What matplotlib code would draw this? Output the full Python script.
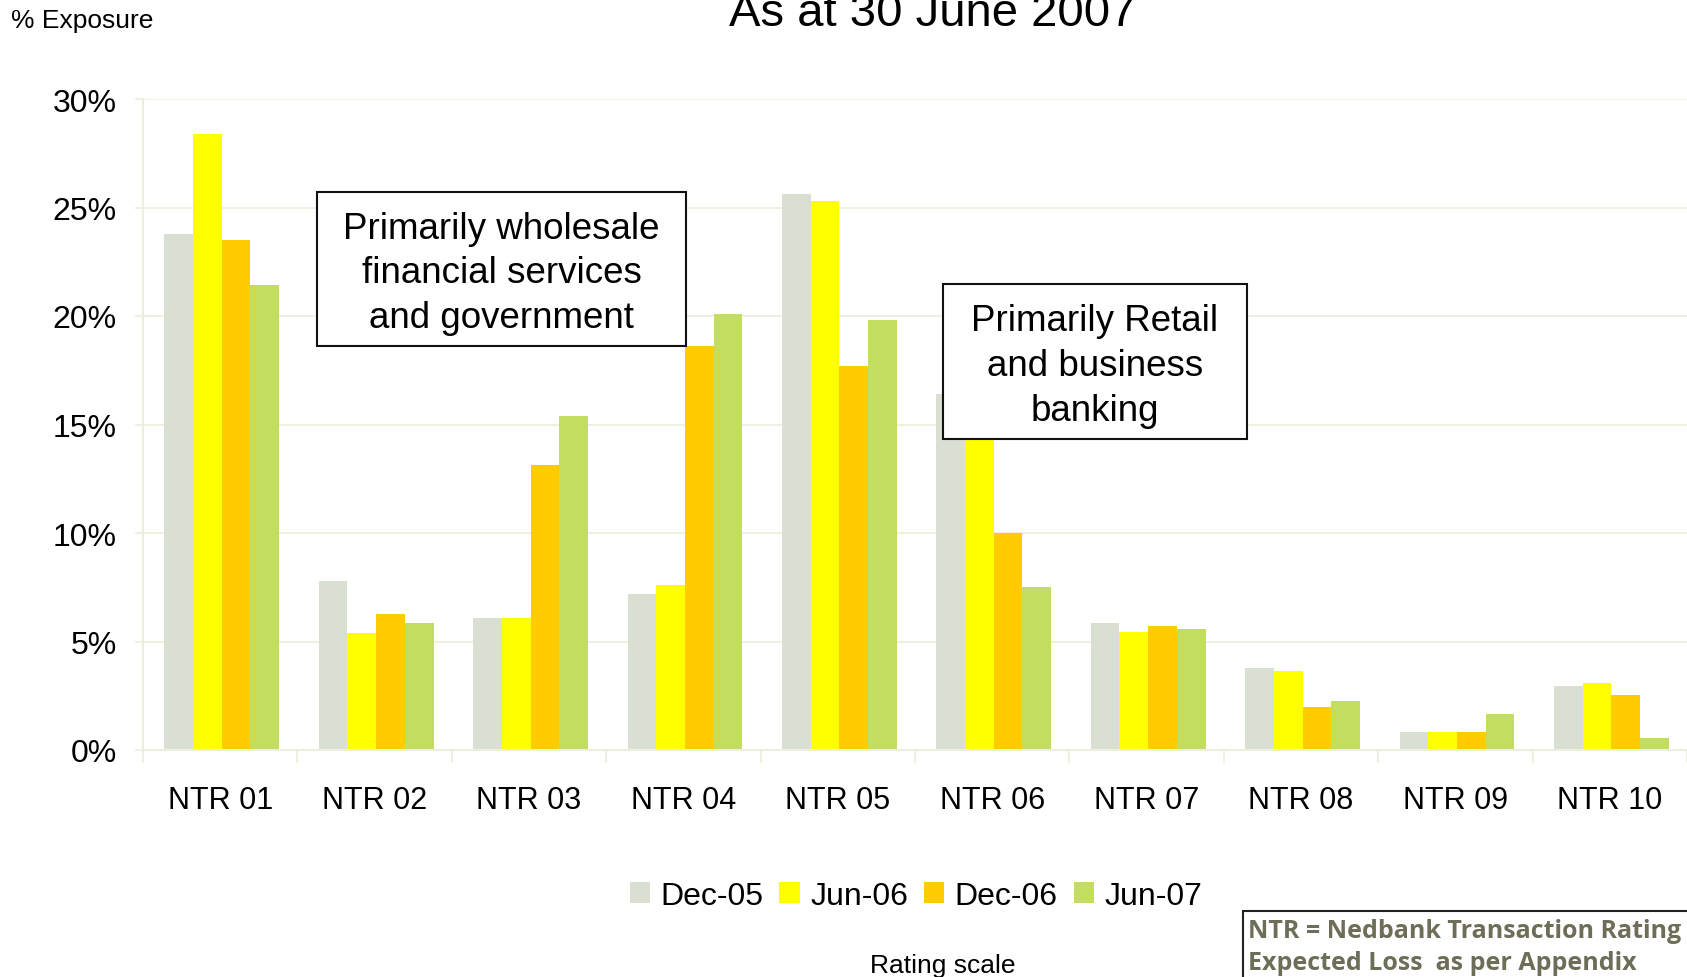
import matplotlib
matplotlib.use("Agg")
import matplotlib.pyplot as plt
from matplotlib.patches import Rectangle
from matplotlib.ticker import FixedLocator, PercentFormatter
import numpy as np

plt.rcParams['font.family'] = ['Liberation Sans', 'DejaVu Sans']

# data (% exposure by rating)
categories = ["NTR 01", "NTR 02", "NTR 03", "NTR 04", "NTR 05",
              "NTR 06", "NTR 07", "NTR 08", "NTR 09", "NTR 10"]
periods = ["Dec-05", "Jun-06", "Dec-06", "Jun-07"]
dec05 = [23.8, 7.8, 6.1, 7.2, 25.6, 16.4, 5.85, 3.77, 0.85, 2.93]
jun06 = [28.4, 5.4, 6.1, 7.6, 25.3, 14.4, 5.43, 3.63, 0.85, 3.07]
dec06 = [23.5, 6.25, 13.15, 18.6, 17.7, 10.0, 5.71, 1.96, 0.85, 2.52]
jun07 = [21.45, 5.83, 15.37, 20.07, 19.8, 7.49, 5.57, 2.24, 1.68, 0.57]
series = [dec05, jun06, dec06, jun07]
colors = ["#D9E0D2", "#FFFF00", "#FFCC00", "#C3DD61"]

grid_col = "#EEEEDC"
W, H = 1687, 978

fig = plt.figure(figsize=(W / 100, H / 100), dpi=100)
ax = fig.add_axes([143 / W, 227 / H, 1 - 143 / W, (751 - 100) / H])

x = np.arange(len(categories))
w = 0.186
for i, (vals, col) in enumerate(zip(series, colors)):
    ax.bar(x + (i - 1.5) * w + 0.01, vals, width=w, color=col,
           label=periods[i], zorder=2, linewidth=0)

ax.set_xlim(-0.5, 9.5)
ax.set_ylim(0, 30)
ax.yaxis.set_major_locator(FixedLocator(np.arange(0, 31, 5)))
ax.yaxis.set_major_formatter(PercentFormatter(decimals=0))
ax.grid(axis='y', color=grid_col, linewidth=1.2, zorder=0)
ax.set_axisbelow(True)

# category separators as major ticks, labels on minor ticks
ax.xaxis.set_major_locator(FixedLocator(np.arange(-0.5, 10, 1)))
ax.xaxis.set_major_formatter(plt.NullFormatter())
ax.xaxis.set_minor_locator(FixedLocator(x))
ax.set_xticklabels(categories, minor=True)
ax.tick_params(axis='x', which='major', length=9, color=grid_col, width=1.2)
ax.tick_params(axis='x', which='minor', length=0, pad=25, labelsize=22)
ax.tick_params(axis='y', length=6, color=grid_col, width=1.2, pad=13,
               labelsize=23)

for s in ['top', 'right']:
    ax.spines[s].set_visible(False)
for s in ['left', 'bottom']:
    ax.spines[s].set_color(grid_col)
    ax.spines[s].set_linewidth(1.5)

fig.text(933 / W, 1 - 26 / H, "As at 30 June 2007", fontsize=34,
         ha='center', va='baseline')
fig.text(11 / W, 1 - 28 / H, "% Exposure", fontsize=19, va='baseline')
fig.text(943 / W, 1 - 973 / H, "Rating scale", fontsize=19,
         ha='center', va='baseline')

# annotation boxes
boxes = [((317, 193, 686, 347), "Primarily wholesale\nfinancial services\nand government"),
         ((943, 285, 1247, 440), "Primarily Retail\nand business\nbanking")]
for (x0, y0, x1, y1), txt in boxes:
    fig.patches.append(Rectangle((x0 / W, 1 - y1 / H), (x1 - x0) / W,
                                 (y1 - y0) / H, transform=fig.transFigure,
                                 facecolor='white', edgecolor='#111111',
                                 linewidth=1.5, zorder=5))
    fig.text((x0 + x1) / 2 / W, 1 - ((y0 + y1) / 2 + 4) / H, txt,
             fontsize=26.5, ha='center', va='center', linespacing=1.36,
             zorder=6)

# NTR note box, cut by the right and bottom edges
fig.patches.append(Rectangle((1243 / W, -0.05), 0.3, 0.05 + 1 - 912 / H,
                             transform=fig.transFigure, facecolor='white',
                             edgecolor='#222222', linewidth=1.5, zorder=5))
note_lines = ["NTR = Nedbank Transaction Rating", "Expected Loss  as per Appendix"]
for k, line in enumerate(note_lines):
    fig.text(1248 / W, 1 - (938 + 32 * k) / H, line, fontsize=18,
             family=['Open Sans', 'DejaVu Sans'], weight='bold',
             color='#6E6E58', va='baseline', zorder=6)

fig.legend(loc='center', bbox_to_anchor=(916 / W, 1 - 897 / H), ncol=4,
           frameon=False, fontsize=23, handlelength=0.63, handleheight=0.63,
           handletextpad=0.33, columnspacing=0.5)

fig.savefig("out.png", dpi=100)
